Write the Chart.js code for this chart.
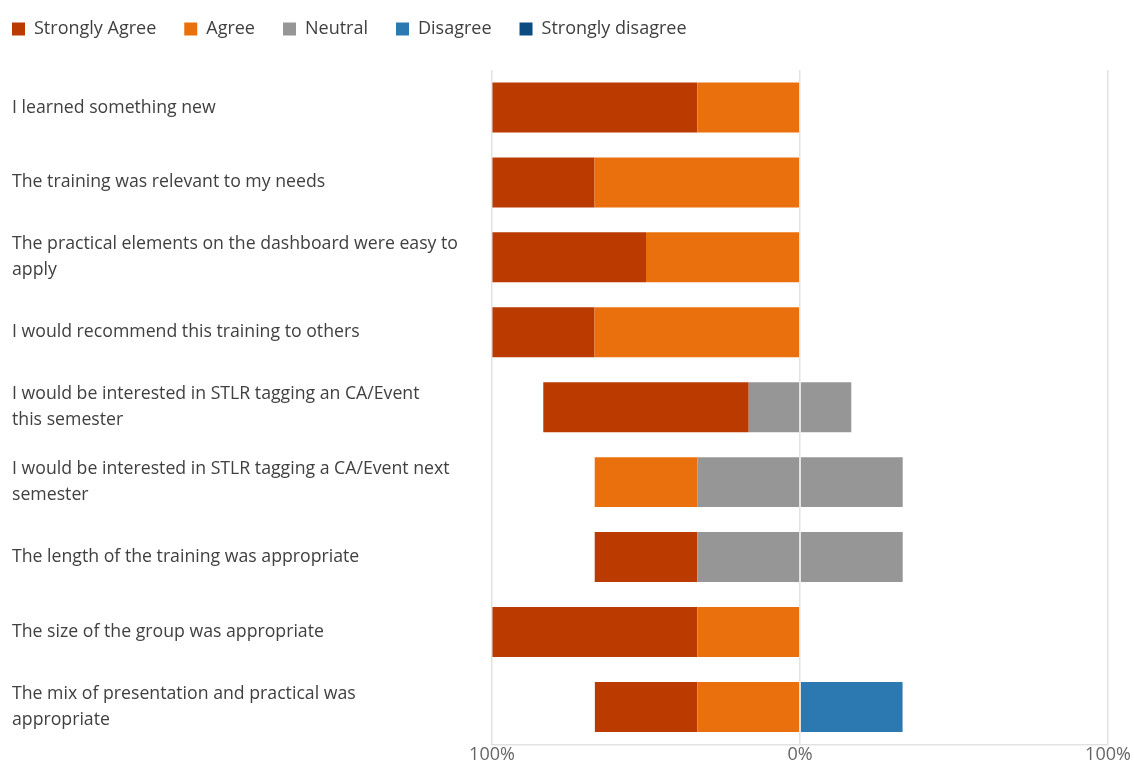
<!DOCTYPE html>
<html>
<head>
<meta charset="utf-8">
<title>Training feedback</title>
<script src="https://cdn.jsdelivr.net/npm/chart.js@4"></script>
<style>
    html, body { margin: 0; padding: 0; background: #fff; }
    #wrap { width: 1134px; height: 766px; position: relative; }
</style>
</head>
<body>
<div id="wrap"><canvas id="myChart"></canvas></div>
<script>
// statements (wrapped the way the form shows them)
var QUESTIONS = [
    'I learned something new',
    'The training was relevant to my needs',
    ['The practical elements on the dashboard were easy to', 'apply'],
    'I would recommend this training to others',
    ['I would be interested in STLR tagging an CA/Event', 'this semester'],
    ['I would be interested in STLR tagging a CA/Event next', 'semester'],
    'The length of the training was appropriate',
    'The size of the group was appropriate',
    ['The mix of presentation and practical was', 'appropriate']
];

// share of answers, in %
var stronglyAgree    = [66.7, 33.3, 50, 33.3, 66.7, 0, 33.3, 66.7, 33.3];
var agree            = [33.3, 66.7, 50, 66.7, 0, 33.3, 0, 33.3, 33.3];
var neutral          = [0, 0, 0, 0, 33.3, 66.7, 66.7, 0, 0];
var disagree         = [0, 0, 0, 0, 0, 0, 0, 0, 33.3];
var stronglyDisagree = [0, 0, 0, 0, 0, 0, 0, 0, 0];

var X_TICKS = [-100, 0, 100];
var LEGEND_ORDER = ['Strongly Agree', 'Agree', 'Neutral', 'Disagree', 'Strongly disagree'];

var COLORS = {
    sa: '#BA3A00',
    a: '#EA700D',
    n: '#969696',
    d: '#2C78B0',
    sd: '#0C4A82'
};

function neg(arr) {
    return arr.map(function (v) { return -v; });
}
function half(arr, sign) {
    return arr.map(function (v) { return sign * v / 2; });
}

function bar(label, data, color) {
    return {
        label: label,
        data: data,
        backgroundColor: color,
        borderWidth: 0,
        categoryPercentage: 1,
        barPercentage: 0.667
    };
}

// stacking goes outward from 0 in dataset order, so positive side
// and negative side each start with half of neutral
var datasets = [
    bar('Neutral', half(neutral, -1), COLORS.n),
    bar('Agree', neg(agree), COLORS.a),
    bar('Strongly Agree', neg(stronglyAgree), COLORS.sa),
    bar('Neutral', half(neutral, 1), COLORS.n),
    bar('Disagree', disagree, COLORS.d),
    bar('Strongly disagree', stronglyDisagree, COLORS.sd)
];

const FONT = "'Open Sans', 'Noto Sans', sans-serif";

// legend sits flush with the left edge and close to the top
const legendShift = {
    id: 'legendShift',
    afterLayout: function (chart) {
        chart.legend.left -= 28;
        chart.legend.top -= 22;
    }
};

const ctx = document.getElementById('myChart').getContext('2d');
const myChart = new Chart(ctx, {
    type: 'bar',
    data: {
        labels: QUESTIONS,
        datasets: datasets
    },
    plugins: [legendShift],
    options: {
        indexAxis: 'y',
        responsive: true,
        maintainAspectRatio: false,
        animation: false,
        layout: {
            padding: { left: 12, right: 26, top: 14, bottom: 0 }
        },
        plugins: {
            tooltip: { enabled: false },
            legend: {
                position: 'top',
                align: 'start',
                labels: {
                    boxWidth: 13,
                    boxHeight: 13,
                    padding: 28,
                    color: '#404040',
                    font: { family: FONT, size: 18 },
                    filter: function (item) {
                        return item.datasetIndex !== 3;
                    },
                    sort: function (a, b) {
                        return LEGEND_ORDER.indexOf(a.text) - LEGEND_ORDER.indexOf(b.text);
                    }
                }
            }
        },
        scales: {
            x: {
                stacked: true,
                min: -100,
                max: 100,
                afterBuildTicks: function (scale) {
                    scale.ticks = X_TICKS.map(function (v) { return { value: v }; });
                },
                ticks: {
                    color: '#666',
                    padding: 0,
                    font: { family: FONT, size: 18 },
                    callback: function (value) {
                        return Math.abs(value) + '%';
                    }
                },
                grid: {
                    color: '#e2e2e2',
                    lineWidth: 1.5,
                    drawTicks: false,
                    z: 1
                },
                border: { display: true, color: '#e2e2e2', width: 1.5, z: 2 }
            },
            y: {
                stacked: true,
                afterFit: function (scale) {
                    scale.width = 480;
                },
                ticks: {
                    crossAlign: 'far',
                    color: '#404040',
                    font: { family: FONT, size: 17.7, lineHeight: 1.47 }
                },
                grid: { display: false },
                border: { display: false }
            }
        }
    }
});
</script>
</body>
</html>
